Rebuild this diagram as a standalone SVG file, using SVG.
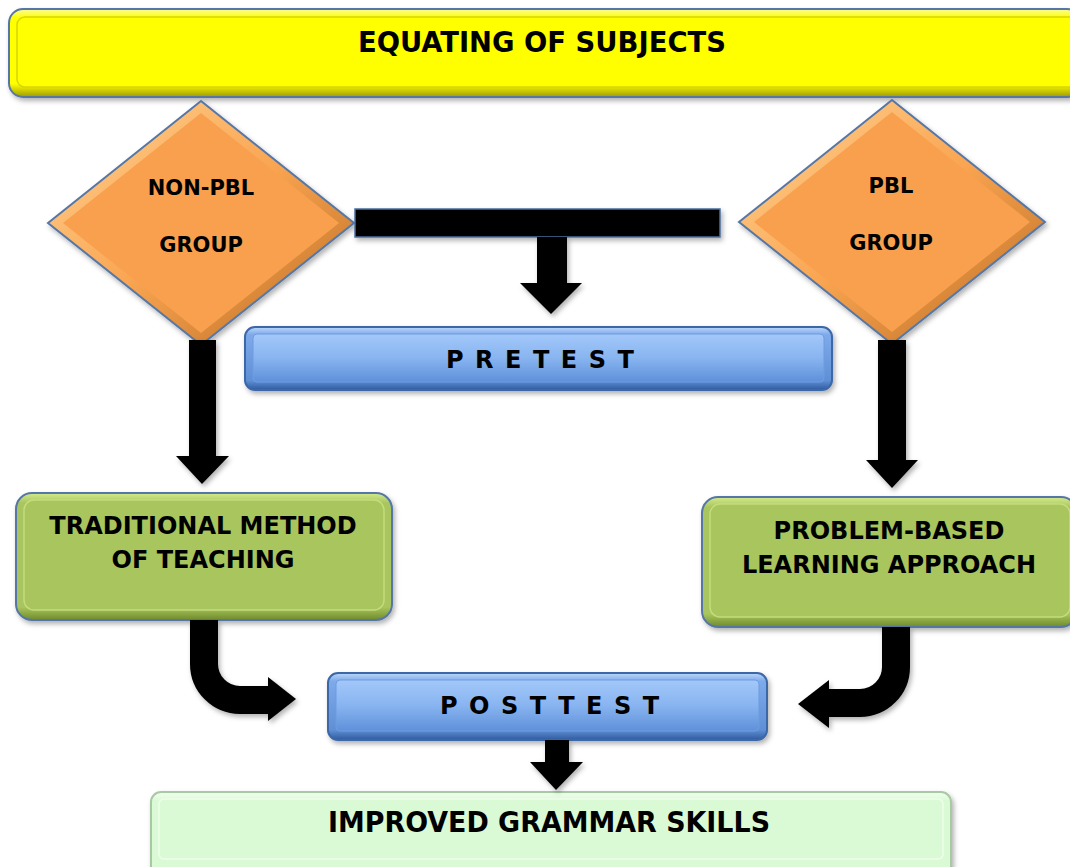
<svg xmlns="http://www.w3.org/2000/svg" width="1070" height="867" viewBox="0 0 1070 867">
<defs>
<filter id="sh" x="-10%" y="-10%" width="120%" height="130%">
<feDropShadow dx="2" dy="3" stdDeviation="2.5" flood-color="#000" flood-opacity="0.3"/>
</filter>
<linearGradient id="gYel" x1="0" y1="0" x2="0" y2="1">
<stop offset="0" stop-color="#fbfb9a"/><stop offset="0.1" stop-color="#ffff00"/><stop offset="0.85" stop-color="#ffff00"/><stop offset="1" stop-color="#9e9a00"/>
</linearGradient>
<linearGradient id="gBlue" x1="0" y1="0" x2="0" y2="1">
<stop offset="0" stop-color="#bcd8fb"/><stop offset="0.12" stop-color="#7eaaea"/><stop offset="0.85" stop-color="#5f8fd6"/><stop offset="1" stop-color="#2f5a9e"/>
</linearGradient>
<linearGradient id="gBlueIn" x1="0" y1="0" x2="0" y2="1">
<stop offset="0" stop-color="#a3c8fa"/><stop offset="0.5" stop-color="#88b4f0"/><stop offset="1" stop-color="#5e90da"/>
</linearGradient>
<linearGradient id="gGrn" x1="0" y1="0" x2="0" y2="1">
<stop offset="0" stop-color="#d4ea8c"/><stop offset="0.08" stop-color="#a8c55e"/><stop offset="0.9" stop-color="#a8c55e"/><stop offset="1" stop-color="#6f8a2a"/>
</linearGradient>
<linearGradient id="gLt" x1="0" y1="0" x2="0" y2="1">
<stop offset="0" stop-color="#f2fff0"/><stop offset="0.1" stop-color="#d9fad5"/><stop offset="0.9" stop-color="#d9fad5"/><stop offset="1" stop-color="#9fc79a"/>
</linearGradient>
<linearGradient id="gOr" x1="0" y1="0" x2="1" y2="1">
<stop offset="0" stop-color="#ffd596"/><stop offset="0.5" stop-color="#f9a552"/><stop offset="1" stop-color="#b8691f"/>
</linearGradient>
<style>
.t{font-family:"DejaVu Sans",Verdana,sans-serif;font-weight:bold;fill:#000;}
.c{font-family:"DejaVu Sans Condensed","DejaVu Sans",sans-serif;font-weight:bold;fill:#000;}
.m{text-anchor:middle;}
.ob{stroke:#5677a6;stroke-width:2;}
.ar{fill:#000;}
.cv{fill:none;stroke:#000;stroke-width:28;}
</style>
</defs>
<rect width="1070" height="867" fill="#fff"/>

<g id="top">
<rect x="9" y="9" width="1072" height="88" rx="14" fill="url(#gYel)" class="ob" filter="url(#sh)"/>
<rect x="17" y="17" width="1060" height="70" rx="8" fill="#ffff00" stroke="#d8d600" stroke-width="1.5"/>
<text x="542" y="52" class="c m" font-size="28" textLength="368" lengthAdjust="spacingAndGlyphs">EQUATING OF SUBJECTS</text>
</g>

<g id="nonpbl">
<polygon points="201,101 354,223 201,345 48,223" fill="url(#gOr)" class="ob" filter="url(#sh)"/>
<polygon points="201,113 339,223 201,333 63,223" fill="#f9a04f"/>
<text x="201" y="195" class="t m" font-size="21">NON-PBL</text>
<text x="201" y="252" class="t m" font-size="21">GROUP</text>
</g>

<g id="pbl">
<polygon points="892,100 1045,222 892,344 739,222" fill="url(#gOr)" class="ob" filter="url(#sh)"/>
<polygon points="892,112 1030,222 892,332 754,222" fill="#f9a04f"/>
<text x="891" y="193" class="t m" font-size="21">PBL</text>
<text x="891" y="250" class="t m" font-size="21">GROUP</text>
</g>

<g id="pretest">
<rect x="245" y="327" width="587" height="63" rx="10" fill="url(#gBlue)" stroke="#3d67a8" stroke-width="2" filter="url(#sh)"/>
<rect x="253" y="334" width="571" height="48" rx="4" fill="url(#gBlueIn)" stroke="#6f9be0" stroke-width="1"/>
<text x="446" y="368" class="t" font-size="24" letter-spacing="11.5">PRETEST</text>
</g>

<g id="traditional">
<rect x="16" y="493" width="376" height="127" rx="16" fill="url(#gGrn)" class="ob" filter="url(#sh)"/>
<rect x="24" y="500" width="360" height="110" rx="10" fill="#a8c55e" stroke="#c4dc7c" stroke-width="1.5"/>
<text x="203" y="534" class="t m" font-size="24">TRADITIONAL METHOD</text>
<text x="203" y="568" class="t m" font-size="24">OF TEACHING</text>
</g>

<g id="pblapproach">
<rect x="702" y="497" width="375" height="130" rx="16" fill="url(#gGrn)" class="ob" filter="url(#sh)"/>
<rect x="710" y="504" width="360" height="113" rx="10" fill="#a8c55e" stroke="#c4dc7c" stroke-width="1.5"/>
<text x="889" y="539" class="t m" font-size="24">PROBLEM-BASED</text>
<text x="889" y="573" class="t m" font-size="24">LEARNING APPROACH</text>
</g>

<g id="posttest">
<rect x="328" y="673" width="439" height="67" rx="10" fill="url(#gBlue)" stroke="#3d67a8" stroke-width="2" filter="url(#sh)"/>
<rect x="336" y="680" width="423" height="51" rx="4" fill="url(#gBlueIn)" stroke="#6f9be0" stroke-width="1"/>
<text x="440" y="714" class="t" font-size="24" letter-spacing="11.5">POSTTEST</text>
</g>

<g id="improved">
<rect x="151" y="792" width="800" height="90" rx="10" fill="url(#gLt)" stroke="#a9c9a4" stroke-width="2" filter="url(#sh)"/>
<rect x="159" y="799" width="784" height="60" rx="5" fill="#d9fad5" stroke="#eefde9" stroke-width="1.5"/>
<text x="549" y="832" class="c m" font-size="28" textLength="442" lengthAdjust="spacingAndGlyphs">IMPROVED GRAMMAR SKILLS</text>
</g>

<g id="connectors" filter="url(#sh)">
<rect x="355" y="209" width="365" height="28" fill="#000" stroke="#4a6fa0" stroke-width="1.5"/>
<polygon class="ar" points="537,237 567,237 567,283 582,283 551,314 520,283 537,283"/>
<polygon class="ar" points="189,340 216,340 216,456 229,456 202,484 176,456 189,456"/>
<polygon class="ar" points="878,340 906,340 906,460 918,460 892,488 866,460 878,460"/>
<path class="cv" d="M204,620 V664 A36,36 0 0 0 240,700 H272"/>
<polygon class="ar" points="268,677 296,699 268,721"/>
<path class="cv" d="M896,627 V667 A36,36 0 0 1 860,703 H826"/>
<polygon class="ar" points="829,680 798,704 829,728"/>
<polygon class="ar" points="545,740 569,740 569,762 583,762 556,790 530,762 545,762"/>
</g>
</svg>
